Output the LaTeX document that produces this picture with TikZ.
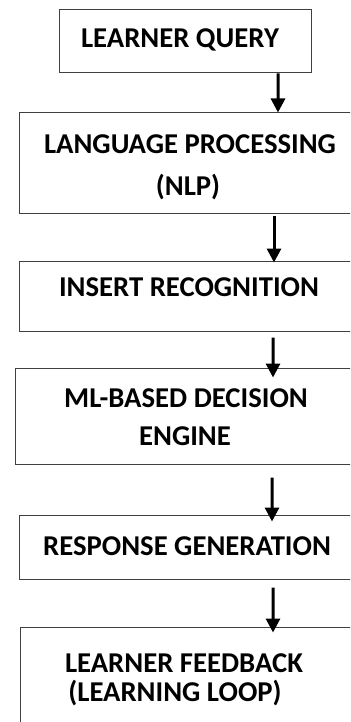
\documentclass[tikz,border=0pt]{standalone}
\usepackage{fontspec}
\setmainfont{Carlito}
\usetikzlibrary{arrows.meta}
\tikzset{
  boxst/.style={draw=black!75, line width=1bp, inner sep=0pt, rectangle},
  txt/.style={anchor=base, inner sep=0pt, font=\fontsize{28.7bp}{34bp}\selectfont\bfseries},
  arr/.style={line width=3bp, -{Triangle[width=14bp,length=14bp]}}
}
\begin{document}
\begin{tikzpicture}[x=1bp,y=-1bp]
\useasboundingbox (0,0) rectangle (350,722);
\clip (0,0) rectangle (350,722);
% boxes
\node[boxst, minimum width=251bp, minimum height=63bp] (b1) at (185.5,41.5) {};
\node[boxst, minimum width=340bp, minimum height=100bp] (b2) at (190,163) {};
\node[boxst, minimum width=340bp, minimum height=70bp] (b3) at (190,296) {};
\node[boxst, minimum width=344bp, minimum height=96bp] (b4) at (188,416) {};
\node[boxst, minimum width=340bp, minimum height=64bp] (b5) at (190,547) {};
\node[boxst, minimum width=339bp, minimum height=113bp] (b6) at (190.5,683.5) {};
% texts
\node[txt] (t1) at (180,48) {LEARNER QUERY};
\node[txt] (t2a) at (190,153) {LANGUAGE PROCESSING};
\node[txt] (t2b) at (188,195) {(NLP)};
\node[txt] (t3) at (189,296) {INSERT RECOGNITION};
\node[txt] (t4a) at (186,407) {ML-BASED DECISION};
\node[txt] (t4b) at (185,445) {ENGINE};
\node[txt] (t5) at (187,555) {RESPONSE GENERATION};
\node[txt] (t6a) at (184,672) {LEARNER FEEDBACK};
\node[txt] (t6b) at (175,701) {(LEARNING LOOP)};
% arrows
\draw[arr] ([xshift=92.5bp]b1.south) -- ([xshift=88bp]b2.north);
\draw[arr] ([xshift=84bp,yshift=-2bp]b2.south) -- ([xshift=84bp,yshift=-2bp]b3.north);
\draw[arr] ([xshift=83bp,yshift=-6bp]b3.south) -- ([xshift=85bp,yshift=-10bp]b4.north);
\draw[arr] ([xshift=84bp,yshift=-13bp]b4.south) -- ([xshift=82bp,yshift=-7bp]b5.north);
\draw[arr] ([xshift=83bp,yshift=-8bp]b5.south) -- ([xshift=82.5bp,yshift=-6bp]b6.north);
\end{tikzpicture}
\end{document}
